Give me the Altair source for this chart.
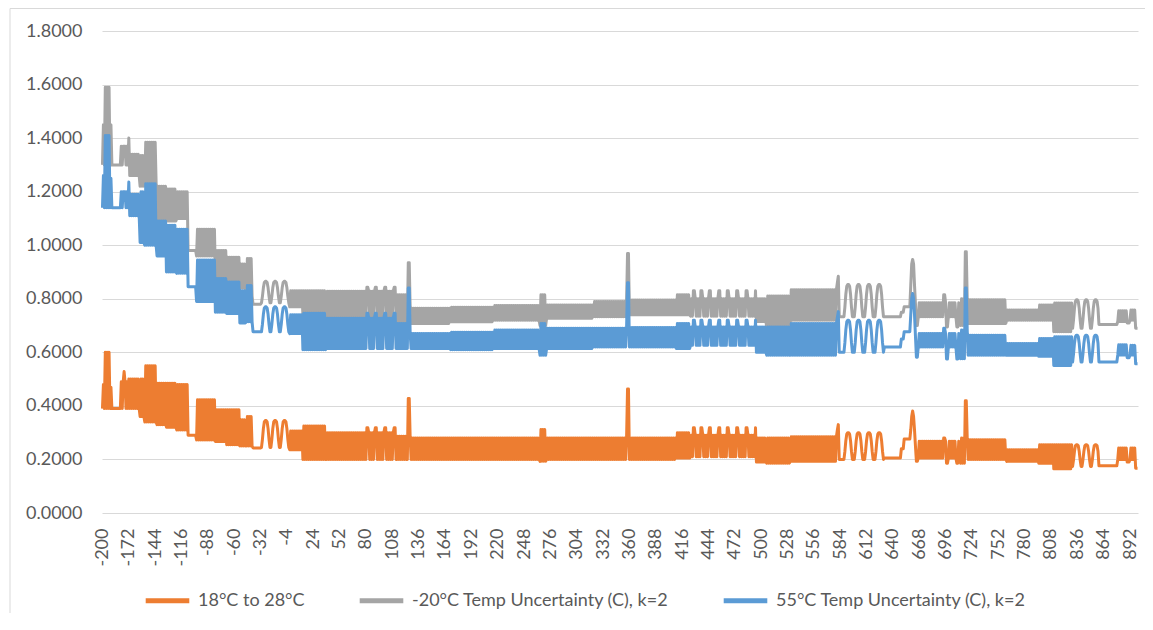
import altair as alt
import pandas as pd

# ---------------- data ----------------
series_names = ["18°C to 28°C", "-20°C Temp Uncertainty (C), k=2", "55°C Temp Uncertainty (C), k=2"]
series_colors = ["#ED7D31", "#A5A5A5", "#5B9BD5"]

x_first, x_last = -200, 900
x_tick_labels = list(range(-200, 893, 28))
y_tick_labels = [0.0, 0.2, 0.4, 0.6, 0.8, 1.0, 1.2, 1.4, 1.6, 1.8]

# segments of the x axis: start of each run, and how the line moves inside it
# period 0 = flat, 2 = jumps between low and high at every point, >2 = repeated humps
seg_start = [-200, -198, -192, -190, -181, -171, -160, -155, -142, -132, -121, -109, -100, -80, -68,
             -54, -47, -40, -31, -1, 13, 38, 113, 124, 170, 216, 265, 272, 322, 360, 410, 425, 495,
             506, 531, 583, 588, 631, 649, 652, 667, 712, 720, 761, 795, 811, 831, 859, 879, 889, 892, 898]
seg_period = [2, 2, 2, 0, 2, 2, 2, 2, 2, 2, 2, 0, 2, 2, 2,
              2, 2, 0, 10, 2, 2, 2, 2, 2, 2, 2, 2, 2, 2, 2, 2, 2, 2,
              2, 2, 0, 11, 0, 0, 0, 2, 2, 2, 2, 2, 2, 10, 0, 2, 0, 2, 0]
# shape of one hump (share of the way from low to high), as seen in the humped runs
hump_shape = [0.0, 0.3, 0.7, 0.95, 1.0, 1.0, 0.95, 0.7, 0.3, 0.0, 0.0]

gray_low = [1.30, 1.30, 1.30, 1.30, 1.30, 1.26, 1.22, 1.235, 1.09, 1.09, 1.10, 0.98, 0.96, 0.88, 0.865,
            0.84, 0.81, 0.78, 0.785, 0.77, 0.74, 0.733, 0.708, 0.708, 0.714, 0.72, 0.70, 0.727, 0.733, 0.74, 0.74, 0.735, 0.715,
            0.695, 0.72, 0.733, 0.733, 0.733, 0.75, 0.77, 0.733, 0.70, 0.708, 0.72, 0.72, 0.677, 0.69, 0.704, 0.715, 0.71, 0.72, 0.69]
gray_high = [1.45, 1.59, 1.45, 1.30, 1.37, 1.34, 1.335, 1.385, 1.22, 1.21, 1.20, 0.98, 1.06, 0.98, 0.955,
             0.93, 0.95, 0.78, 0.865, 0.83, 0.83, 0.828, 0.815, 0.765, 0.768, 0.775, 0.815, 0.777, 0.79, 0.795, 0.815, 0.80, 0.80,
             0.81, 0.834, 0.733, 0.853, 0.733, 0.75, 0.77, 0.785, 0.80, 0.796, 0.758, 0.777, 0.784, 0.796, 0.704, 0.755, 0.71, 0.758, 0.69]

blue_low = [1.14, 1.14, 1.14, 1.14, 1.14, 1.11, 1.01, 1.00, 0.96, 0.90, 0.895, 0.845, 0.79, 0.75, 0.745,
            0.71, 0.714, 0.677, 0.677, 0.67, 0.61, 0.614, 0.614, 0.614, 0.61, 0.614, 0.589, 0.614, 0.62, 0.62, 0.614, 0.626, 0.60,
            0.589, 0.589, 0.60, 0.60, 0.62, 0.65, 0.677, 0.62, 0.576, 0.589, 0.589, 0.585, 0.551, 0.564, 0.564, 0.59, 0.58, 0.59, 0.557]
blue_high = [1.26, 1.41, 1.25, 1.14, 1.20, 1.19, 1.20, 1.23, 1.09, 1.075, 1.06, 0.845, 0.945, 0.876, 0.863,
             0.83, 0.85, 0.677, 0.77, 0.74, 0.746, 0.727, 0.708, 0.67, 0.675, 0.683, 0.708, 0.69, 0.69, 0.693, 0.708, 0.695, 0.695,
             0.695, 0.708, 0.60, 0.72, 0.62, 0.65, 0.677, 0.67, 0.683, 0.664, 0.633, 0.652, 0.658, 0.664, 0.564, 0.628, 0.58, 0.626, 0.557]

orange_low = [0.39, 0.39, 0.39, 0.39, 0.39, 0.39, 0.36, 0.34, 0.33, 0.32, 0.31, 0.29, 0.273, 0.267, 0.255,
              0.25, 0.25, 0.243, 0.245, 0.236, 0.20, 0.20, 0.20, 0.20, 0.20, 0.20, 0.193, 0.20, 0.20, 0.20, 0.205, 0.21, 0.19,
              0.186, 0.193, 0.20, 0.20, 0.205, 0.24, 0.276, 0.205, 0.186, 0.20, 0.193, 0.186, 0.165, 0.174, 0.176, 0.20, 0.19, 0.20, 0.167]
orange_high = [0.48, 0.60, 0.47, 0.39, 0.49, 0.50, 0.50, 0.55, 0.485, 0.485, 0.48, 0.29, 0.423, 0.386, 0.386,
               0.348, 0.36, 0.243, 0.345, 0.306, 0.325, 0.30, 0.287, 0.28, 0.28, 0.28, 0.312, 0.28, 0.28, 0.28, 0.30, 0.29, 0.28,
               0.28, 0.285, 0.20, 0.30, 0.205, 0.24, 0.276, 0.268, 0.28, 0.274, 0.236, 0.255, 0.255, 0.255, 0.176, 0.243, 0.19, 0.243, 0.167]

# single points that stand out (spikes, humps, dips)
spike_x = [-177, -172, 81, 82, 90, 91, 100, 101, 110, 111, 125, 126, 358, 359,
           428, 429, 436, 437, 445, 446, 455, 456, 464, 465, 474, 475, 484, 485, 494,
           581, 582, 659, 660, 661, 662, 663, 664, 665, 666, 694, 695, 697, 698, 708, 709, 717, 718]
spike_gray = [1.37, 1.40, 0.843, 0.843, 0.843, 0.843, 0.843, 0.843, 0.843, 0.843, 0.935, 0.935, 0.969, 0.969,
              0.83, 0.83, 0.83, 0.83, 0.83, 0.83, 0.83, 0.83, 0.83, 0.83, 0.83, 0.83, 0.83, 0.83, 0.83,
              0.86, 0.884, 0.85, 0.93, 0.947, 0.93, 0.85, 0.78, 0.70, 0.70, 0.815, 0.815, 0.695, 0.695, 0.695, 0.695, 0.976, 0.976]
spike_blue = [1.20, 1.236, 0.746, 0.746, 0.746, 0.746, 0.746, 0.746, 0.746, 0.746, 0.84, 0.84, 0.86, 0.86,
              0.72, 0.72, 0.72, 0.72, 0.72, 0.72, 0.72, 0.72, 0.72, 0.72, 0.72, 0.72, 0.72, 0.72, 0.72,
              0.73, 0.752, 0.74, 0.80, 0.82, 0.80, 0.74, 0.66, 0.582, 0.582, 0.69, 0.69, 0.575, 0.575, 0.575, 0.575, 0.84, 0.84]
spike_orange = [0.528, 0.50, 0.318, 0.318, 0.318, 0.318, 0.318, 0.318, 0.318, 0.318, 0.428, 0.428, 0.463, 0.463,
                0.318, 0.318, 0.318, 0.318, 0.318, 0.318, 0.318, 0.318, 0.318, 0.318, 0.318, 0.318, 0.318, 0.318, 0.318,
                0.31, 0.33, 0.31, 0.36, 0.381, 0.36, 0.31, 0.25, 0.193, 0.193, 0.28, 0.28, 0.186, 0.186, 0.186, 0.186, 0.419, 0.419]

# ---------------- build the table ----------------
def build(low, high, spikes):
    over = dict(zip(spike_x, spikes))
    bounds = seg_start + [x_last + 1]
    out = []
    for i in range(len(seg_start)):
        p = seg_period[i]
        for x in range(bounds[i], bounds[i + 1]):
            k = x - bounds[i]
            if p == 0:
                share = 0.0
            elif p == 2:
                share = 1.0 if k % 2 == 1 else 0.0
            else:
                j = k % p
                share = hump_shape[j] if j < len(hump_shape) else 0.0
            v = low[i] + share * (high[i] - low[i])
            out.append((x, round(over.get(x, v), 4)))
    return out

rows = []
for name, lo, hi, sp in [(series_names[0], orange_low, orange_high, spike_orange),
                         (series_names[1], gray_low, gray_high, spike_gray),
                         (series_names[2], blue_low, blue_high, spike_blue)]:
    for x, v in build(lo, hi, sp):
        rows.append({"x": x, "value": v, "series": name})
df = pd.DataFrame(rows)

# ---------------- chart ----------------
FONT = "Lato"
TXT = "#595959"
GRID = "#D9D9D9"

color = alt.Color(
    "series:N",
    scale=alt.Scale(domain=series_names, range=series_colors),
    sort=series_names,
    legend=alt.Legend(
        title=None, orient="none", direction="horizontal",
        legendX=41, legendY=545,
        symbolType="stroke", symbolSize=1900, symbolStrokeWidth=5,
        labelFont=FONT, labelFontSize=18, labelColor=TXT, labelOffset=6,
        columnPadding=44, padding=0, labelLimit=400,
    ),
)

x_enc = alt.X(
    "x:Q",
    scale=alt.Scale(domain=[x_first - 0.5, x_last + 0.5], nice=False, zero=False),
    axis=alt.Axis(
        title=None, values=x_tick_labels, labelAngle=-90, labelExpr="'' + datum.value",
        labelFont=FONT, labelFontSize=18, labelColor=TXT, labelPadding=15,
        ticks=False, tickSize=0, domain=False, grid=False,
        labelOverlap=False, labelFlush=False, labelBound=False,
    ),
)
y_enc = alt.Y(
    "value:Q",
    scale=alt.Scale(domain=[0, 1.8], nice=False),
    axis=alt.Axis(
        title=None, values=y_tick_labels, format=".4f",
        labelFont=FONT, labelFontSize=18, labelColor=TXT, labelPadding=20,
        ticks=False, tickSize=0, domain=False, grid=True, gridColor=GRID, gridWidth=1,
    ),
)

frame = alt.Chart(pd.DataFrame({"f": [0]})).mark_rect(
    fill="transparent", stroke=GRID, strokeWidth=1
).encode(
    x=alt.value(-92), x2=alt.value(1200), y=alt.value(-22.5), y2=alt.value(700)
)

layers = [frame]
for name in series_names:
    layers.append(
        alt.Chart(df)
        .transform_filter(alt.datum.series == name)
        .mark_line(strokeWidth=3, strokeJoin="round")
        .encode(x=x_enc, y=y_enc, color=color)
    )

chart = (
    alt.layer(*layers)
    .properties(
        width=1036, height=482,
        autosize=alt.AutoSizeParams(type="none"),
        padding={"left": 94, "top": 23, "right": 7, "bottom": 100},
        background="white",
    )
    .configure_view(stroke=None)
)

chart.save("out.html", embed_options={"renderer": "svg", "actions": False})
